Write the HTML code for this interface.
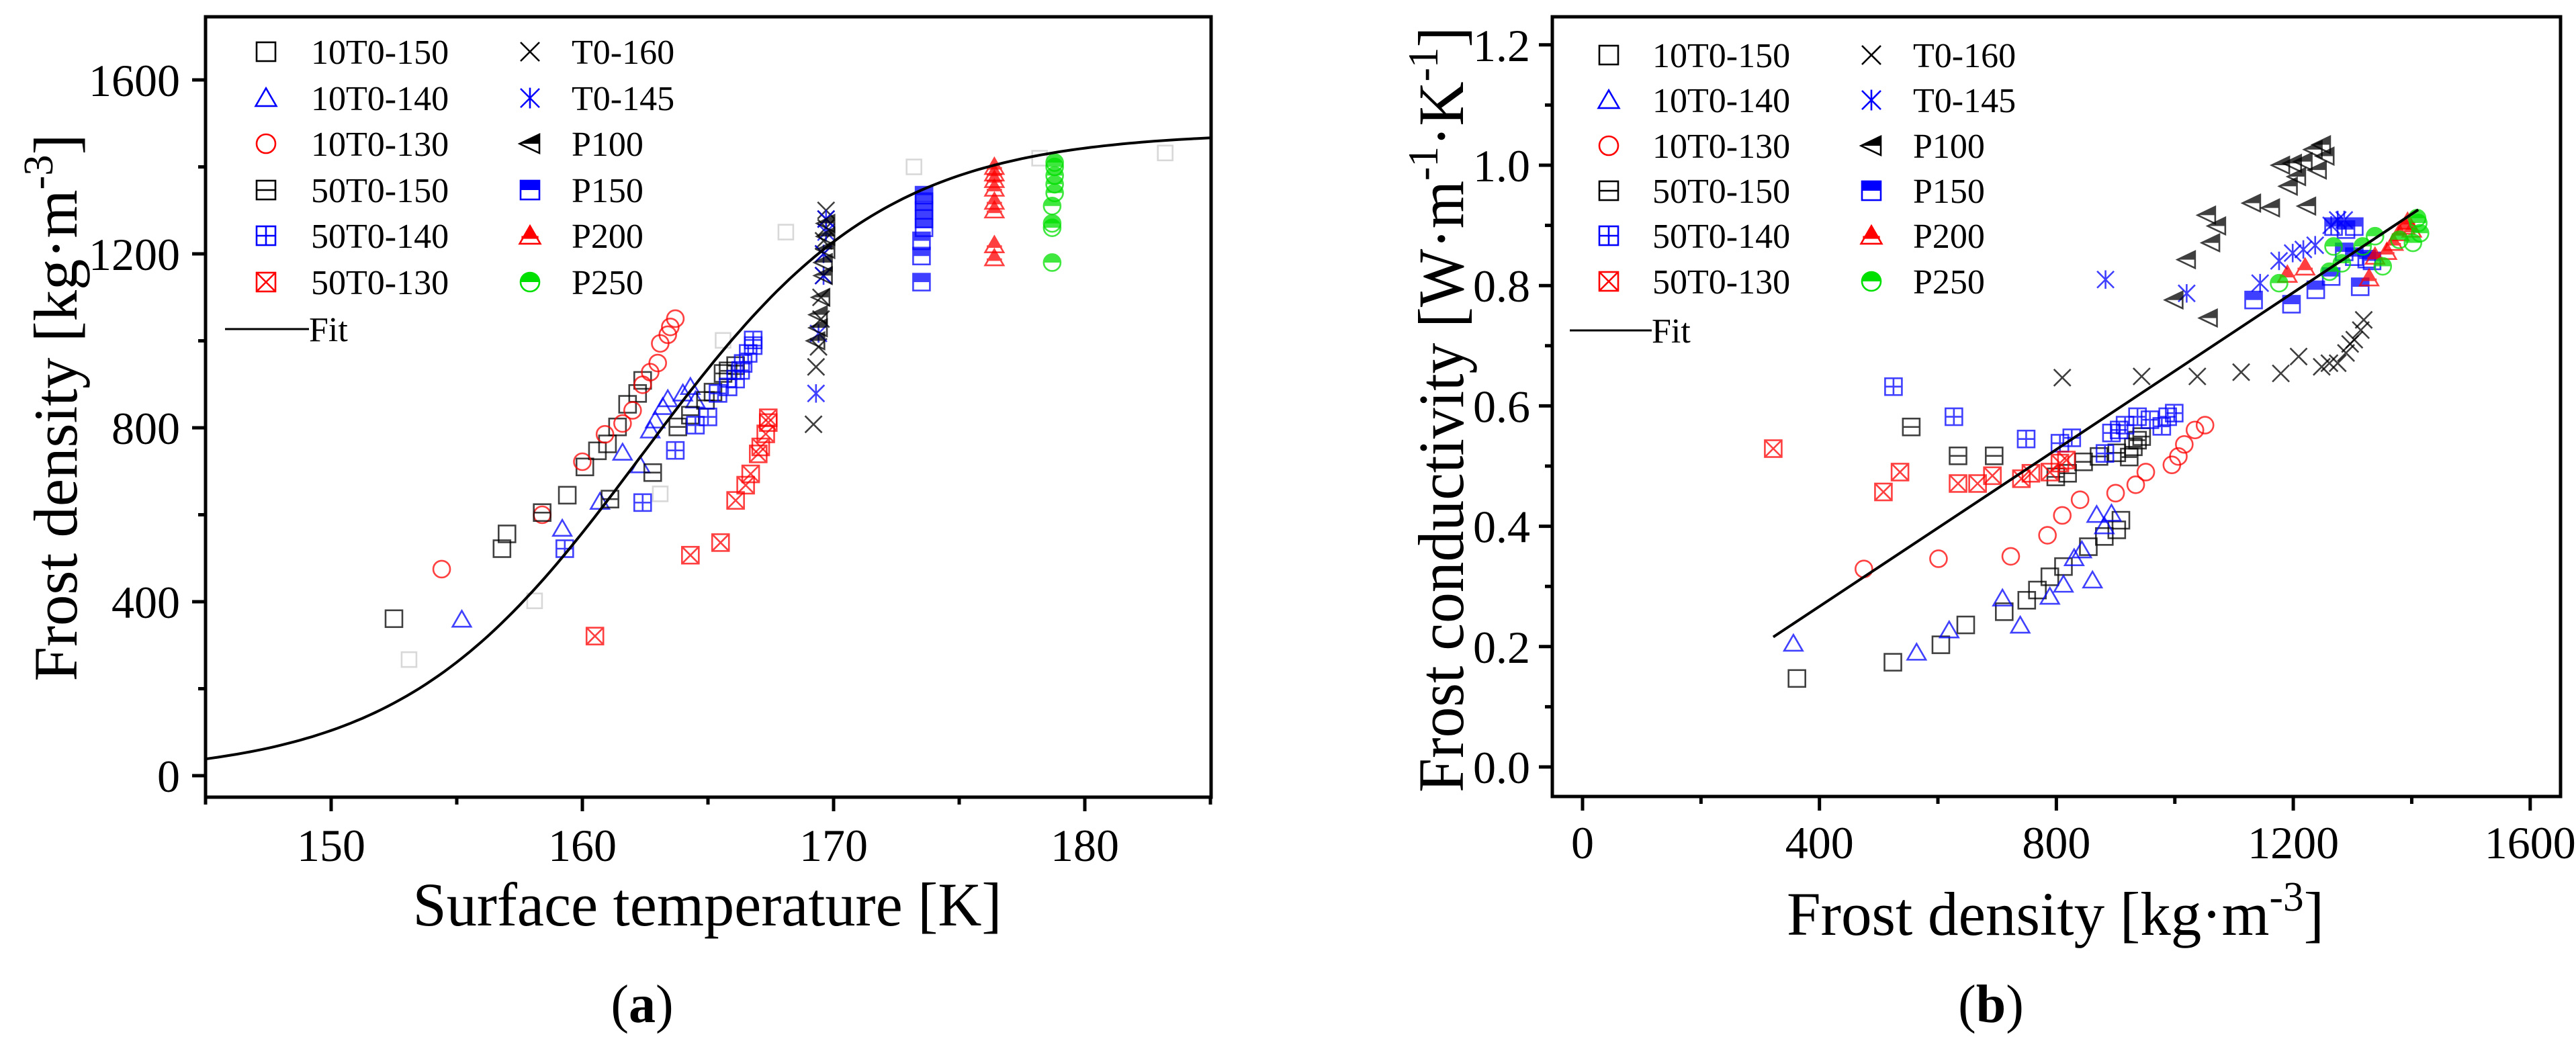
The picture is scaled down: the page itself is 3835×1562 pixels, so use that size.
<!DOCTYPE html>
<html><head><meta charset="utf-8"><style>
html,body{margin:0;padding:0;background:#fff;}
svg, svg text{font-family:"Liberation Serif","DejaVu Serif","Times New Roman",serif;}
</style></head><body>
<svg id="fig" width="3835" height="1557" viewBox="0 0 3835 1557" xmlns="http://www.w3.org/2000/svg" font-family="Liberation Serif, DejaVu Serif, serif">
<g id="pa"></g>
<g id="pb"></g>
</svg>
<script>
// ---------- Panel (a) data: surface temperature [K] vs frost density ----------
const a_10T0_150_T=[152.5,156.8,157.0,159.4,160.1,160.6,161.0,161.4,161.8,162.2,162.4];
const a_10T0_150_D=[361,522,556,645,710,747,763,802,854,879,909];
const a_10T0_140_T=[155.2,159.2,160.7,161.6,162.3,162.7,162.9,163.2,163.4,164.0,164.3,164.5];
const a_10T0_140_D=[359,568,630,743,714,794,817,848,866,879,894,863];
const a_10T0_130_T=[154.4,158.4,160.0,160.9,161.6,162.0,162.4,162.7,163.0,163.1,163.4,163.5,163.7];
const a_10T0_130_D=[475,600,722,785,810,840,899,928,949,994,1014,1032,1051];
const a_50T0_150_T=[158.4,161.1,162.8,163.8,164.3,164.9,165.2,165.6,165.8,166.1];
const a_50T0_150_D=[605,636,697,802,829,863,882,925,931,943];
const a_50T0_140_T=[159.3,162.4,163.7,164.5,165.0,165.4,165.8,166.1,166.3,166.4,166.6,166.8,166.8];
const a_50T0_140_D=[522,628,748,806,825,879,894,912,932,948,971,989,1002];
const a_50T0_130_T=[160.5,164.3,165.5,166.1,166.5,166.7,167.0,167.1,167.3,167.4,167.4];
const a_50T0_130_D=[321,507,536,633,668,694,740,756,786,812,823];
const a_T0_160_T=[169.2,169.3,169.4,169.5,169.5,169.6,169.6,169.6,169.7,169.7,169.7];
const a_T0_160_D=[808,940,986,1050,1100,1150,1200,1230,1260,1280,1300];
const a_T0_145_T=[169.3,169.4,169.6,169.6,169.7,169.7];
const a_T0_145_D=[879,1017,1150,1200,1250,1280];
const a_P100_T=[169.3,169.4,169.4,169.5,169.6,169.6,169.7,169.7,169.7];
const a_P100_D=[1000,1030,1060,1100,1150,1180,1210,1240,1270];
const a_P150_T=[173.5,173.5,173.5,173.6,173.6,173.6,173.6,173.6];
const a_P150_D=[1135,1195,1230,1260,1280,1300,1320,1335];
const a_P200_T=[176.4,176.4,176.4,176.4,176.4,176.4,176.4,176.4];
const a_P200_D=[1190,1220,1300,1320,1350,1370,1385,1400];
const a_P250_T=[178.7,178.7,178.7,178.7,178.8,178.8,178.8,178.8,178.8];
const a_P250_D=[1180,1260,1270,1310,1340,1360,1380,1400,1410];
const a_faint_T=[153.1,158.1,163.1,165.6,168.1,173.2,178.2,183.2];
const a_faint_D=[267,402,648,1001,1250,1400,1420,1432];
const a_fit_A2=1480, a_fit_x0=162.4, a_fit_dx=4.8;
const a_xTicks=[150,160,170,180], a_yTicks=[0,400,800,1200,1600];

// ---------- Panel (b) data: frost density vs frost conductivity ----------
const b_10T0_150_D=[362,524,605,647,712,750,768,789,812,854,881,902,909];
const b_10T0_150_K=[.147,.174,.203,.236,.258,.277,.294,.316,.333,.366,.383,.394,.41];
const b_10T0_140_D=[356,564,619,709,739,789,812,830,843,861,868,881,893];
const b_10T0_140_K=[.205,.19,.227,.28,.235,.283,.303,.347,.36,.31,.419,.40,.421];
const b_10T0_130_D=[475,601,723,785,810,840,900,934,951,995,1006,1016,1034,1051];
const b_10T0_130_K=[.329,.346,.35,.385,.418,.444,.455,.469,.49,.502,.516,.536,.56,.568];
const b_50T0_150_D=[555,634,695,799,819,846,872,902,923,930,937,944];
const b_50T0_150_K=[.565,.517,.517,.482,.488,.507,.516,.522,.515,.532,.543,.549];
const b_50T0_140_D=[525,627,749,806,826,882,893,906,916,937,958,978,988,999];
const b_50T0_140_K=[.632,.582,.545,.538,.547,.521,.555,.56,.568,.582,.577,.566,.582,.588];
const b_50T0_130_D=[322,508,536,634,667,692,741,757,789,806,817];
const b_50T0_130_K=[.529,.457,.49,.471,.471,.484,.479,.488,.49,.505,.51];
const b_T0_160_D=[810,944,1038,1112,1179,1209,1248,1261,1275,1289,1296,1303,1314,1319];
const b_T0_160_K=[.647,.649,.649,.656,.654,.682,.665,.671,.671,.688,.703,.71,.726,.743];
const b_T0_145_D=[883,1020,1144,1176,1199,1217,1237,1264,1275,1286];
const b_T0_145_K=[.81,.787,.804,.841,.854,.86,.867,.90,.909,.909];
const b_P100_D=[999,1020,1054,1057,1061,1071,1130,1162,1179,1192,1199,1206,1217,1223,1234,1248,1254,1241];
const b_P100_K=[.776,.843,.917,.746,.871,.899,.937,.929,1.0,.965,1.003,.981,1.006,.932,1.026,1.034,1.015,.992];
const b_P150_D=[1133,1197,1238,1264,1286,1303,1313,1324,1333,1268,1289,1303];
const b_P150_K=[.776,.769,.793,.815,.856,.848,.798,.844,.841,.898,.893,.898];
const b_P200_D=[1190,1220,1328,1338,1358,1369,1379,1389,1400,1393];
const b_P200_K=[.818,.83,.812,.848,.856,.871,.887,.898,.893,.906];
const b_P250_D=[1176,1261,1268,1282,1317,1338,1351,1379,1402,1411,1414,1409];
const b_P250_K=[.804,.823,.865,.837,.865,.882,.832,.876,.871,.904,.887,.912];
const b_fit_a=0.006, b_fit_b=0.000652, b_fit_min=322, b_fit_max=1411;
const b_xTicks=[0,400,800,1200,1600], b_yTicks=[0,0.2,0.4,0.6,0.8,1.0,1.2];

const NS="http://www.w3.org/2000/svg";
const FONT='Liberation Serif, DejaVu Serif, serif';
function mk(parent,tag,attrs){const e=document.createElementNS(NS,tag);for(const k in attrs)e.setAttribute(k,attrs[k]);parent.appendChild(e);return e;}

// axis functions
const xa=t=>306+(t-145)*37.4, ya=v=>1155-v*0.6475;
const xb=d=>2356+d*0.88175, yb=k=>1142-k*896;

function marker(g,type,cx,cy,s,col,op){
  const h=s/2, sw=2.6;
  const gg=mk(g,'g',{opacity:op});
  const st={fill:'none',stroke:col,'stroke-width':sw};
  if(type==='sq'||type==='hsq'||type==='psq'||type==='xsq'){
    mk(gg,'rect',Object.assign({x:cx-h,y:cy-h,width:s,height:s},st));
    if(type==='hsq'||type==='psq')mk(gg,'line',Object.assign({x1:cx-h,y1:cy,x2:cx+h,y2:cy},st));
    if(type==='psq')mk(gg,'line',Object.assign({x1:cx,y1:cy-h,x2:cx,y2:cy+h},st));
    if(type==='xsq'){mk(gg,'line',Object.assign({x1:cx-h,y1:cy-h,x2:cx+h,y2:cy+h},st));mk(gg,'line',Object.assign({x1:cx-h,y1:cy+h,x2:cx+h,y2:cy-h},st));}
  } else if(type==='tri'){
    mk(gg,'polygon',Object.assign({points:`${cx},${cy-h*1.05} ${cx+h*1.1},${cy+h*0.85} ${cx-h*1.1},${cy+h*0.85}`},st));
  } else if(type==='circ'){
    mk(gg,'ellipse',Object.assign({cx:cx,cy:cy,rx:h,ry:h},st));
  } else if(type==='x'){
    mk(gg,'line',Object.assign({x1:cx-h,y1:cy-h,x2:cx+h,y2:cy+h},st));mk(gg,'line',Object.assign({x1:cx-h,y1:cy+h,x2:cx+h,y2:cy-h},st));
  } else if(type==='ast'){
    mk(gg,'line',Object.assign({x1:cx-h,y1:cy-h,x2:cx+h,y2:cy+h},st));mk(gg,'line',Object.assign({x1:cx-h,y1:cy+h,x2:cx+h,y2:cy-h},st));
    mk(gg,'line',Object.assign({x1:cx,y1:cy-h*1.1,x2:cx,y2:cy+h*1.1},st));
  } else if(type==='ltri'){
    mk(gg,'polygon',{points:`${cx-h*1.1},${cy} ${cx+h},${cy-h} ${cx+h},${cy}`,fill:col});
    mk(gg,'polygon',Object.assign({points:`${cx-h*1.1},${cy} ${cx+h},${cy-h} ${cx+h},${cy+h}`},st));
  } else if(type==='hfsq'){
    mk(gg,'rect',{x:cx-h,y:cy-h,width:s,height:h,fill:col});
    mk(gg,'rect',Object.assign({x:cx-h,y:cy-h,width:s,height:s},st));
  } else if(type==='hftri'){
    mk(gg,'polygon',{points:`${cx},${cy-h*1.05} ${cx+h*0.6},${cy+h*0.1} ${cx-h*0.6},${cy+h*0.1}`,fill:col});
    mk(gg,'rect',{x:cx-h*0.9,y:cy+h*0.1-1,width:h*1.8,height:h*0.3,fill:col});
    mk(gg,'polygon',Object.assign({points:`${cx},${cy-h*1.05} ${cx+h*1.1},${cy+h*0.85} ${cx-h*1.1},${cy+h*0.85}`},st));
  } else if(type==='hfcirc'){
    mk(gg,'path',{d:`M${cx-h},${cy} A${h},${h} 0 0 1 ${cx+h},${cy} Z`,fill:col});
    mk(gg,'ellipse',Object.assign({cx:cx,cy:cy,rx:h,ry:h},st));
  }
  return gg;
}

function txt(g,x,y,s,size,anchor,extra){const t=mk(g,'text',Object.assign({x:x,y:y,'font-size':size,'font-family':FONT,'text-anchor':anchor||'start',fill:'#000'},extra||{}));t.textContent=s;return t;}

function frame(g,L,R,T,B){
  mk(g,'rect',{x:L,y:T,width:R-L,height:B-T,fill:'none',stroke:'#000','stroke-width':5});
}

const series=[
 ['10T0-150','sq','#000'],['10T0-140','tri','#0000ff'],['10T0-130','circ','#ff0000'],
 ['50T0-150','hsq','#000'],['50T0-140','psq','#0000ff'],['50T0-130','xsq','#ff0000'],
 ['T0-160','x','#000'],['T0-145','ast','#0000ff'],['P100','ltri','#000'],
 ['P150','hfsq','#0000ff'],['P200','hftri','#ff0000'],['P250','hfcirc','#00e000']];

function legend(g,c1s,c1t,c2s,c2t,rows,fitX1,fitX2,fitY){
  series.forEach((s,i)=>{
    const col=i<6?0:1, r=i%6;
    const sx=col?c2s:c1s, tx=col?c2t:c1t, y=rows[r];
    const le=mk(g,'g',{});
    
    
    marker(le,s[1],sx,y,28,s[2],1);
    txt(le,tx,y+18,s[0],52);
  });
  const lf=mk(g,'g',{});
  
  
  mk(lf,'line',{x1:fitX1,y1:fitY,x2:fitX2,y2:fitY,stroke:'#000','stroke-width':3});
  txt(lf,fitX2,fitY+18,'Fit',52);
}

// ================= Panel A =================
(function(){
 const g=document.getElementById('pa');
 const L=306,R=1803,T=25,B=1187;
 const tk=mk(g,'g',{stroke:'#000','stroke-width':5});
 
 
 a_xTicks.forEach(t=>{mk(tk,'line',{x1:xa(t),y1:B,x2:xa(t),y2:B+21});
   const l=txt(g,xa(t),1282,String(t),68,'middle');
   
   });
 [145,155,165,175,185].forEach(t=>mk(tk,'line',{x1:xa(t),y1:B,x2:xa(t),y2:B+11}));
 a_yTicks.forEach(v=>{mk(tk,'line',{x1:L,y1:ya(v),x2:L-20,y2:ya(v)});
   const l=txt(g,268,ya(v)+24,String(v),68,'end');
   
   });
 [200,600,1000,1400].forEach(v=>mk(tk,'line',{x1:L,y1:ya(v),x2:L-11,y2:ya(v)}));
 const cp=mk(g,'clipPath',{id:'clipA'});mk(cp,'rect',{x:L,y:T,width:R-L,height:B-T});
 const pg=mk(g,'g',{'clip-path':'url(#clipA)'});
 a_faint_T.forEach((t,i)=>{const m=marker(pg,'sq',xa(t),ya(a_faint_D[i]),22,'#d8d8d8',1);
   
   });
 const sets=[[a_10T0_150_T,a_10T0_150_D],[a_10T0_140_T,a_10T0_140_D],[a_10T0_130_T,a_10T0_130_D],
  [a_50T0_150_T,a_50T0_150_D],[a_50T0_140_T,a_50T0_140_D],[a_50T0_130_T,a_50T0_130_D],
  [a_T0_160_T,a_T0_160_D],[a_T0_145_T,a_T0_145_D],[a_P100_T,a_P100_D],
  [a_P150_T,a_P150_D],[a_P200_T,a_P200_D],[a_P250_T,a_P250_D]];
 sets.forEach((s,si)=>{const sg=mk(pg,'g',{});
   
   
   s[0].forEach((t,i)=>{const m=marker(sg,series[si][1],xa(t),ya(s[1][i]),25,series[si][2],0.75);
     
     });});
 let d='';for(let t=145;t<=185.001;t+=0.25){const v=a_fit_A2/(1+Math.exp(-(t-a_fit_x0)/a_fit_dx));d+=(d?'L':'M')+xa(t).toFixed(1)+','+ya(v).toFixed(1);}
 const fp=mk(pg,'path',{d:d,fill:'none',stroke:'#000','stroke-width':4});
 
 
 frame(g,L,R,T,B);
 legend(g,396,463,789,851,[77,146,214,283,351,420],335,460,490);
 const xt=txt(g,1053,1378,'Surface temperature [K]',92,'middle',{textLength:877,lengthAdjust:'spacingAndGlyphs'});
 
 
 const yt=mk(g,'text',{x:0,y:0,'font-size':92,'font-family':FONT,'text-anchor':'middle',transform:'translate(114,607) rotate(-90)',textLength:815,lengthAdjust:'spacingAndGlyphs'});
 
 
 yt.innerHTML='Frost density [kg·m<tspan dy="-36" font-size="62">-3</tspan><tspan dy="36">]</tspan>';
 const cap=mk(g,'text',{x:956,y:1522,'font-size':80,'font-family':FONT,'text-anchor':'middle'});
 
 
 cap.innerHTML='(<tspan font-weight="bold">a</tspan>)';
})();

// ================= Panel B =================
(function(){
 const g=document.getElementById('pb');
 const L=2311,R=3812,T=25,B=1186;
 const tk=mk(g,'g',{stroke:'#000','stroke-width':5});
 
 
 b_xTicks.forEach(t=>{mk(tk,'line',{x1:xb(t),y1:B,x2:xb(t),y2:B+21});
   const l=txt(g,xb(t),1278,String(t),68,'middle');
   
   });
 [200,600,1000,1400].forEach(t=>mk(tk,'line',{x1:xb(t),y1:B,x2:xb(t),y2:B+11}));
 b_yTicks.forEach(v=>{mk(tk,'line',{x1:L,y1:yb(v),x2:L-20,y2:yb(v)});
   const l=txt(g,2278,yb(v)+24,v.toFixed(1),68,'end');
   
   });
 [0.1,0.3,0.5,0.7,0.9,1.1].forEach(v=>mk(tk,'line',{x1:L,y1:yb(v),x2:L-11,y2:yb(v)}));
 const cp=mk(g,'clipPath',{id:'clipB'});mk(cp,'rect',{x:L,y:T,width:R-L,height:B-T});
 const pg=mk(g,'g',{'clip-path':'url(#clipB)'});
 const sets=[[b_10T0_150_D,b_10T0_150_K],[b_10T0_140_D,b_10T0_140_K],[b_10T0_130_D,b_10T0_130_K],
  [b_50T0_150_D,b_50T0_150_K],[b_50T0_140_D,b_50T0_140_K],[b_50T0_130_D,b_50T0_130_K],
  [b_T0_160_D,b_T0_160_K],[b_T0_145_D,b_T0_145_K],[b_P100_D,b_P100_K],
  [b_P150_D,b_P150_K],[b_P200_D,b_P200_K],[b_P250_D,b_P250_K]];
 sets.forEach((s,si)=>{const sg=mk(pg,'g',{});
   
   
   s[0].forEach((d,i)=>{const m=marker(sg,series[si][1],xb(d),yb(s[1][i]),25,series[si][2],0.75);
     
     });});
 const fl=mk(pg,'line',{x1:xb(b_fit_min),y1:yb(b_fit_a+b_fit_b*b_fit_min),x2:xb(b_fit_max),y2:yb(b_fit_a+b_fit_b*b_fit_max),stroke:'#000','stroke-width':4});
 
 
 frame(g,L,R,T,B);
 legend(g,2395,2460,2786,2848,[82,149,217,284,351,419],2337,2459,492);
 const xt=mk(g,'text',{x:3060,y:1392,'font-size':92,'font-family':FONT,'text-anchor':'middle',textLength:800,lengthAdjust:'spacingAndGlyphs'});
 
 
 xt.innerHTML='Frost density [kg·m<tspan dy="-36" font-size="62">-3</tspan><tspan dy="36">]</tspan>';
 const yt=mk(g,'text',{x:0,y:0,'font-size':96,'font-family':FONT,'text-anchor':'middle',transform:'translate(2178,610) rotate(-90)',textLength:1140,lengthAdjust:'spacingAndGlyphs'});
 
 
 yt.innerHTML='Frost conductivity [W·m<tspan dy="-38" font-size="64">-1</tspan><tspan dy="38">·K</tspan><tspan dy="-38" font-size="64">-1</tspan><tspan dy="38">]</tspan>';
 const cap=mk(g,'text',{x:2964,y:1522,'font-size':80,'font-family':FONT,'text-anchor':'middle'});
 
 
 cap.innerHTML='(<tspan font-weight="bold">b</tspan>)';
})();
</script>
</body></html>
